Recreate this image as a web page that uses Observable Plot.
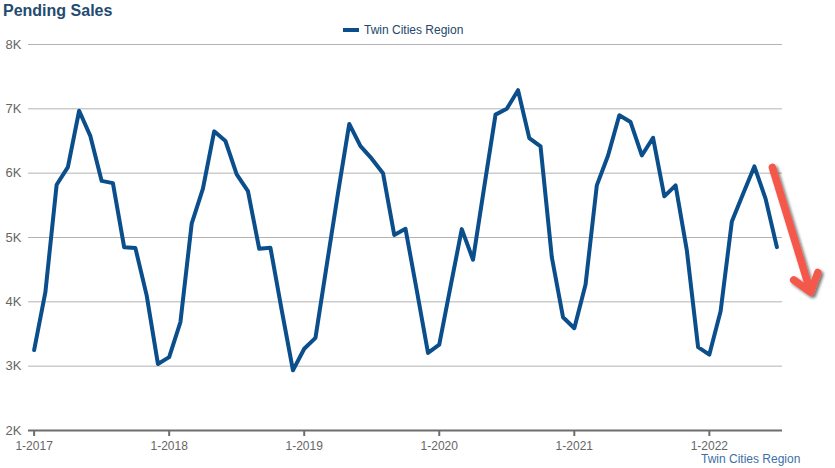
<!DOCTYPE html>
<html><head><meta charset="utf-8">
<script src="https://cdn.jsdelivr.net/npm/d3@7"></script>
<script src="https://cdn.jsdelivr.net/npm/@observablehq/plot@0.6"></script>
<style>
body{margin:0;background:#fff;font-family:"Liberation Sans",Arial,sans-serif;}
#wrap{position:relative;width:835px;height:468px;overflow:hidden}
#chart{position:absolute;left:0;top:0}
#title{position:absolute;left:3px;top:3px;font-size:16px;line-height:16px;font-weight:bold;color:#234b70;white-space:nowrap}
#legend{position:absolute;left:343px;top:24px;font-size:12px;line-height:12px;color:#24476b;display:flex;align-items:center;white-space:nowrap}
#legend .sw{width:16px;height:4px;background:#0b4e8c;margin-right:5px}
#caption{position:absolute;left:701px;top:453px;font-size:12px;line-height:12px;color:#3d6fa8;white-space:nowrap}
</style>
</head><body>
<div id="wrap">
  <div id="chart"></div>
  <div id="title">Pending Sales</div>
  <div id="legend"><span class="sw"></span><span>Twin Cities Region</span></div>
  <div id="caption">Twin Cities Region</div>
</div>
<script>
const series = "Twin Cities Region";
const years = [2017, 2018, 2019, 2020, 2021, 2022];
const months = years.flatMap(y => d3.range(1, 13).map(m => `${m}-${y}`)).slice(0, 67);
const values = [
  3250, 4150, 5820, 6095, 6970, 6575, 5880, 5845, 4850, 4835, 4100, 3035,
  3140, 3685, 5215, 5760, 6650, 6500, 5980, 5720, 4825, 4840, 3870, 2935,
  3270, 3440, 4570, 5690, 6765, 6420, 6225, 6000, 5040, 5135, 4180, 3205,
  3335, 4235, 5130, 4655, 5790, 6910, 7000, 7290, 6545, 6415, 4695, 3760,
  3590, 4270, 5810, 6275, 6900, 6795, 6275, 6550, 5640, 5810, 4800, 3295,
  3180, 3855, 5250, 5680, 6105, 5600, 4850
];
const yTicks = [2000, 3000, 4000, 5000, 6000, 7000, 8000];
const xTickLabels = years.map(y => `1-${y}`);
const xTicks = xTickLabels.map(l => months.indexOf(l));
// trend annotation arrow (month index / value space)
const trendArrow = [{x1: 65.6, y1: 6090, x2: 69.0, y2: 4150}];

const data = values.map((v, i) => ({i, month: months[i], value: v, series}));

const svg = Plot.plot({
  width: 835,
  height: 468,
  marginTop: 44,
  marginBottom: 38,
  marginLeft: 28,
  marginRight: 53,
  style: {fontFamily: "Liberation Sans, Arial, sans-serif", background: "transparent", overflow: "visible"},
  x: {type: "linear", domain: [-0.5, months.length - 0.5]},
  y: {domain: [2000, 8000]},
  marks: [
    Plot.ruleY(yTicks, {stroke: "#b3b3b3", strokeWidth: 1}),
    Plot.axisY({ticks: yTicks, tickFormat: d => d / 1000 + "K", tickSize: 0, tickPadding: 7, fontSize: 13, fill: "#666", label: null}),
    Plot.ruleY([2000], {stroke: "#6d6d6d", strokeWidth: 2}),
    Plot.axisX({ticks: xTicks, tickFormat: i => months[i], tickSize: 6, tickPadding: 5, fontSize: 12, fill: "#666", stroke: "#6d6d6d", strokeWidth: 2, label: null}),
    Plot.line(data, {x: "i", y: "value", stroke: "#0b4e8c", strokeWidth: 4, strokeLinejoin: "round", strokeLinecap: "round"}),
    Plot.arrow(trendArrow, {x1: "x1", y1: "y1", x2: "x2", y2: "y2", stroke: "#f4594b", strokeWidth: 7.5, headLength: 4.2, headAngle: 74, strokeLinecap: "round", strokeLinejoin: "round"})
  ]
});
document.getElementById("chart").appendChild(svg);

const ns = "http://www.w3.org/2000/svg";
const defs = document.createElementNS(ns, "defs");
defs.innerHTML = '<filter id="sh" x="-50%" y="-50%" width="200%" height="200%"><feDropShadow dx="2" dy="2" stdDeviation="1.5" flood-color="#000" flood-opacity="0.55"/></filter>';
svg.prepend(defs);
const ag = svg.querySelector('g[aria-label="arrow"]');
if (ag) ag.setAttribute("filter", "url(#sh)");
</script>
</body></html>
